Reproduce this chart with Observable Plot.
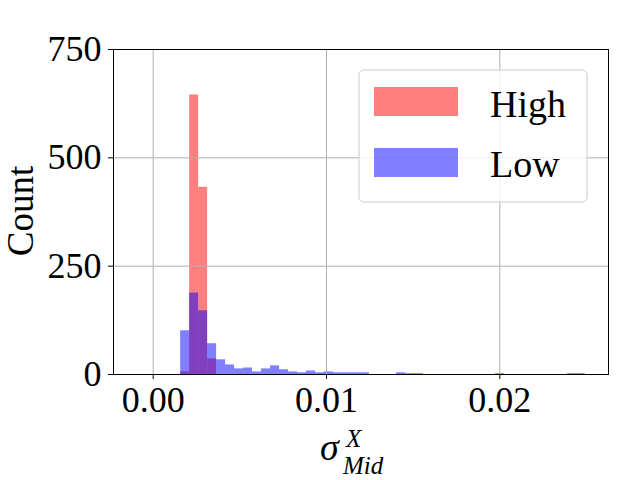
<!DOCTYPE html>
<html>
<head>
<meta charset="utf-8">
<script src="https://cdn.jsdelivr.net/npm/d3@7"></script>
<script src="https://cdn.jsdelivr.net/npm/@observablehq/plot@0.6"></script>
<style>
  html, body { margin: 0; padding: 0; background: #fff; }
</style>
</head>
<body>
<div id="chart"></div>
<script>
// Histogram bins (shared edges)
const binStart = 0.001585;
const binWidth = 0.0005187;
// Counts per bin
const highCounts = [6, 645, 432, 36];
const lowCounts = [101, 188, 147, 71, 34, 22, 13, 15, 6, 13, 20, 11, 6, 4, 8, 4, 6, 4, 4, 4, 4, 0, 0, 0, 4, 2, 2, 0, 0, 0, 0, 0, 0, 0, 0, 2, 0, 0, 0, 0, 0, 0, 0, 2, 2];
const seriesNames = ["High", "Low"];
const seriesColors = ["#ff0000", "#0000ff"];
const xTicks = [0, 0.01, 0.02];
const yTicks = [0, 250, 500, 750];

const toBins = counts => counts.map((c, i) => ({
  x1: binStart + i * binWidth,
  x2: binStart + (i + 1) * binWidth,
  count: c
})).filter(d => d.count > 0);

const highBins = toBins(highCounts);
const lowBins = toBins(lowCounts);

const font = "'Liberation Serif', 'DejaVu Serif', serif";

const plot = Plot.plot({
  width: 640,
  height: 480,
  marginLeft: 113,
  marginTop: 49,
  marginRight: 32,
  marginBottom: 106,
  style: { fontFamily: font, fontSize: "36px", background: "#fff" },
  x: { domain: [-0.00229, 0.02627] },
  y: { domain: [0, 750] },
  marks: [
    Plot.rect(highBins, { x1: "x1", x2: "x2", y1: () => 0, y2: "count", fill: seriesColors[0], fillOpacity: 0.5 }),
    Plot.rect(lowBins, { x1: "x1", x2: "x2", y1: () => 0, y2: "count", fill: seriesColors[1], fillOpacity: 0.5 }),
    Plot.gridX(xTicks, { stroke: "#b0b0b0", strokeOpacity: 1, strokeWidth: 1 }),
    Plot.gridY(yTicks, { stroke: "#b0b0b0", strokeOpacity: 1, strokeWidth: 1 }),
    Plot.axisX(xTicks, { tickFormat: d3.format(".2f"), tickSize: 5, tickPadding: 7, label: null, fontSize: 36, stroke: "#000" }),
    Plot.axisY(yTicks, { tickFormat: d3.format("d"), tickSize: 5, tickPadding: 7, label: null, fontSize: 36, stroke: "#000" }),
    Plot.frame({ stroke: "#000", strokeWidth: 1 })
  ]
});

document.getElementById("chart").appendChild(plot);

const svg = d3.select(plot);

// Y label
svg.append("text")
  .attr("transform", "translate(33,211) rotate(-90)")
  .attr("text-anchor", "middle")
  .style("font-family", font)
  .style("font-size", "37px")
  .attr("fill", "#000")
  .text("Count");

// X label: sigma with superscript X and subscript Mid (one text element)
const xl = svg.append("text")
  .attr("text-anchor", "start")
  .attr("x", 320).attr("y", 460)
  .style("font-family", font).style("font-style", "italic")
  .attr("fill", "#000");
xl.append("tspan").attr("x", 320).attr("y", 460).style("font-size", "38px").text("σ");
xl.append("tspan").attr("x", 346).attr("y", 447).style("font-size", "25px").text("X");
xl.append("tspan").attr("x", 343).attr("y", 474).style("font-size", "25px").text("Mid");

// Legend
const lg = svg.append("g").attr("text-anchor", "start");
lg.append("rect")
  .attr("x", 359).attr("y", 70).attr("width", 228).attr("height", 132)
  .attr("rx", 5).attr("ry", 5)
  .attr("fill", "#fff").attr("fill-opacity", 0.8)
  .attr("stroke", "#cccccc").attr("stroke-width", 1);
const legendRows = [{ y: 87, ty: 117 }, { y: 148, ty: 177 }];
seriesNames.forEach((name, i) => {
  lg.append("rect")
    .attr("x", 374).attr("y", legendRows[i].y).attr("width", 84).attr("height", 29)
    .attr("fill", seriesColors[i]).attr("fill-opacity", 0.5);
  lg.append("text")
    .attr("x", 490).attr("y", legendRows[i].ty)
    .style("font-family", font).style("font-size", "38px")
    .attr("fill", "#000")
    .text(name);
});
</script>
</body>
</html>
